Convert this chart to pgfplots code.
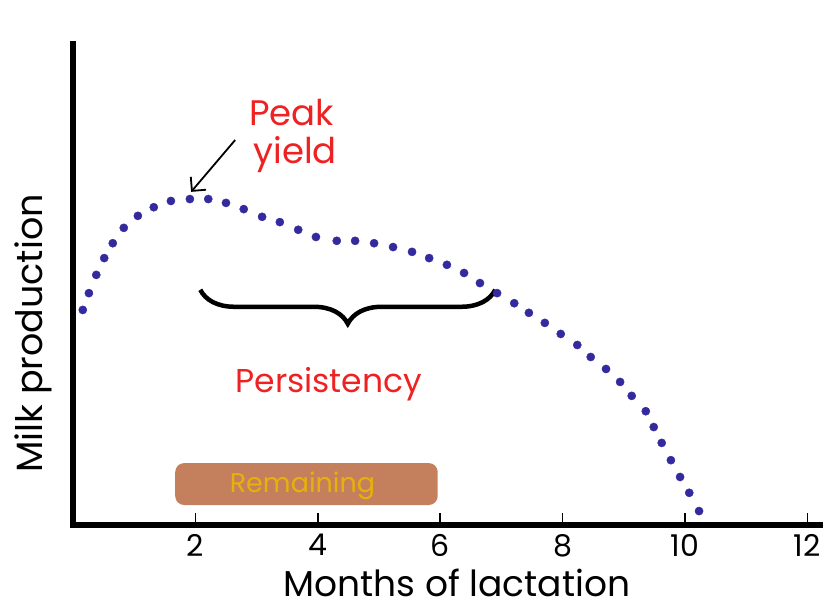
\documentclass[border=0pt]{standalone}
\usepackage{pgfplots}
\pgfplotsset{compat=1.18}
\usepackage{fontspec}
\setmainfont{Poppins}
\usetikzlibrary{decorations.pathreplacing,arrows.meta}
\definecolor{dotblue}{RGB}{52,42,158}
\definecolor{pred}{RGB}{238,34,34}
\definecolor{boxbrown}{RGB}{196,128,92}
\definecolor{gold}{RGB}{232,176,10}
\begin{document}
\begin{tikzpicture}
\path[use as bounding box] (0pt,0pt) rectangle (825pt,608pt);
\begin{axis}[
  at={(73pt,83.5pt)}, anchor=south west,
  scale only axis, width=746.6pt, height=480pt,
  xmin=0, xmax=12.2, ymin=0, ymax=100,
  axis lines=left,
  axis line style={-, line width=6pt, line cap=rect, black},
  xtick={2,4,6,8,10,12}, ytick=\empty,
  tick align=inside, major tick length=11pt,
  tick style={black, line width=1.5pt},
  xticklabel style={font=\fontsize{30}{30}\selectfont, yshift=-6pt},
  /pgf/number format/assume math mode=true,
  xlabel={Months of lactation},
  ylabel={Milk production},
  xlabel style={font=\fontsize{36}{36}\selectfont, inner sep=0pt, text depth=0pt, at={(axis description cs:0.514,-0.150)}, anchor=base},
  ylabel style={font=\fontsize{36.5}{36.5}\selectfont, inner sep=0pt, at={(axis description cs:-0.0402,0.398)}, anchor=base},
  clip=false,
]
\addplot[only marks, mark=*, mark size=4.1pt, color=dotblue] coordinates {
(0.16,44.7) (0.26,48.2) (0.38,52.0) (0.51,55.5) (0.65,58.6) (0.83,61.8)
(1.06,64.3) (1.32,66.1) (1.60,67.4) (1.91,67.8) (2.21,67.8) (2.50,67.0)
(2.79,65.7) (3.09,64.1) (3.38,63.0) (3.68,61.4) (3.97,59.9) (4.31,59.1)
(4.61,59.1) (4.92,58.6) (5.23,57.8) (5.54,56.8) (5.82,55.5) (6.11,54.1)
(6.39,52.4) (6.65,50.3) (6.93,48.2) (7.21,46.1) (7.45,44.1) (7.71,42.0)
(7.97,39.7) (8.24,37.4) (8.46,34.9) (8.71,32.4) (8.94,29.7) (9.13,26.8)
(9.36,23.6) (9.49,20.3) (9.62,17.0) (9.77,13.4) (9.92,9.9) (10.07,6.6)
(10.23,2.8)
};
% Remaining box
\fill[boxbrown, rounded corners=9pt] (axis cs:1.67,4.06) rectangle (axis cs:5.96,12.8);
\node[anchor=base, text=gold, font=\fontsize{27}{27}\selectfont] at (axis cs:3.75,6.6) {Remaining};
% brace
\draw[line width=4.5pt, decorate, decoration={brace, mirror, amplitude=34pt}] (axis cs:2.08,48.9) -- (axis cs:6.90,48.9);
% labels
\node[anchor=base, text=pred, font=\fontsize{35.5}{35.5}\selectfont] at (axis cs:3.57,83.2) {Peak};
\node[anchor=base, text=pred, font=\fontsize{35.5}{35.5}\selectfont] at (axis cs:3.63,75.3) {yield};
\node[anchor=base, text=pred, font=\fontsize{33}{33}\selectfont] at (axis cs:4.18,27.6) {Persistency};
% arrow
\draw[line width=1.8pt, -{Straight Barb[length=10pt, width=20pt]}] (axis cs:2.65,80.1) -- (axis cs:1.93,69.3);
\end{axis}
\end{tikzpicture}
\end{document}
